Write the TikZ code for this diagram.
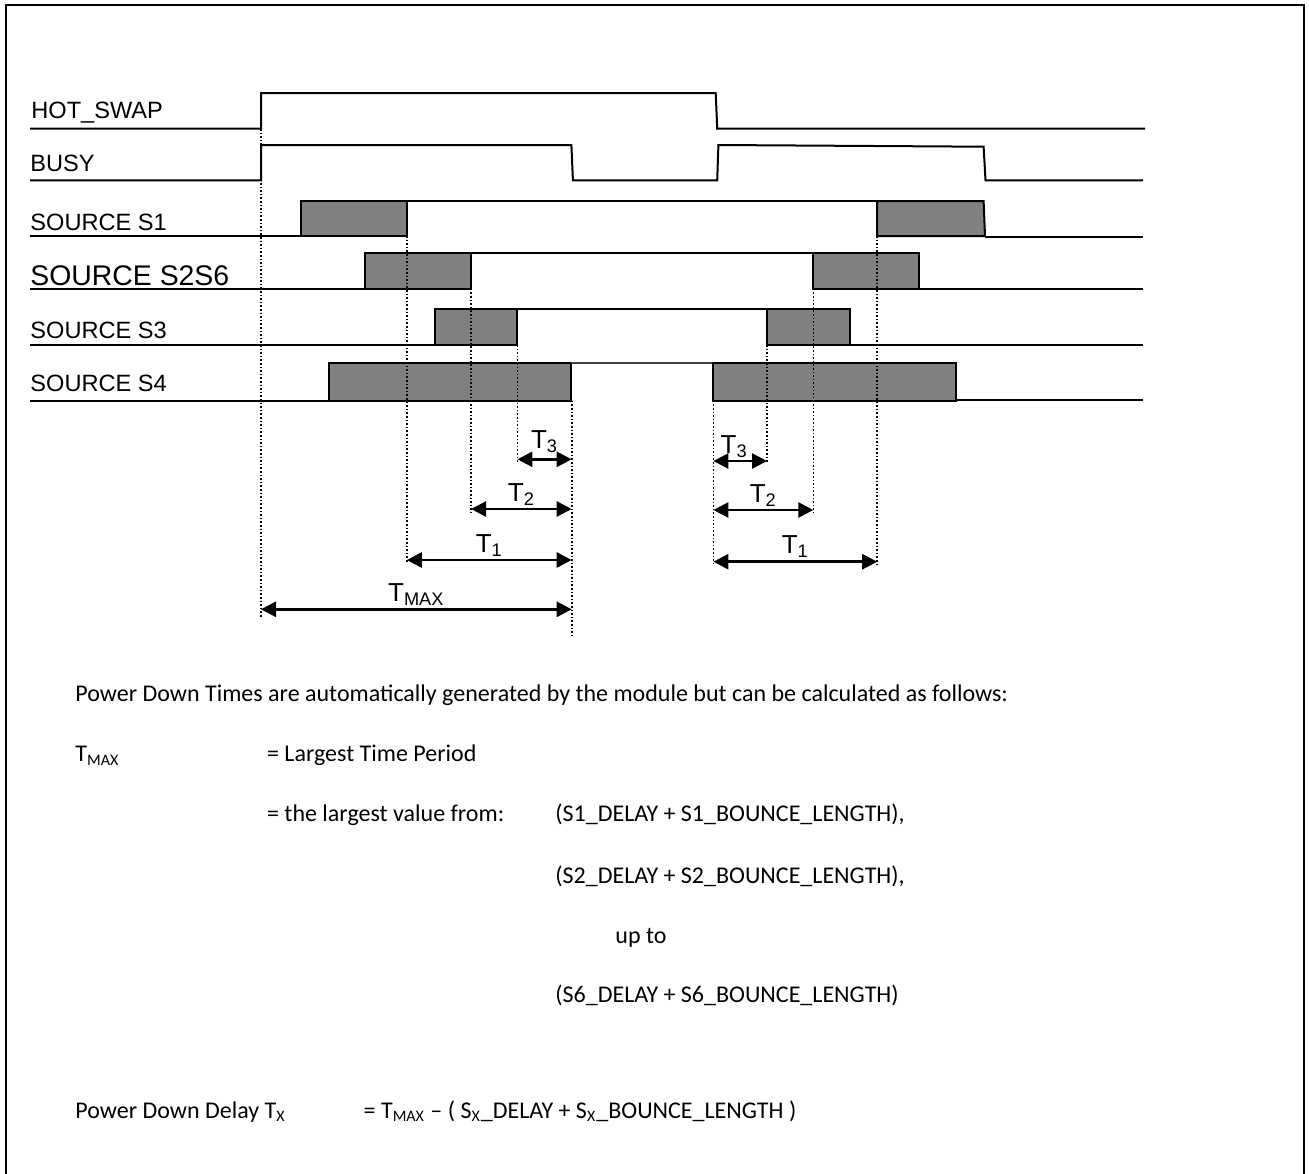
\documentclass[tikz,border=0pt]{standalone}
\usepackage{fontspec}
\setmainfont{Carlito}
\newfontfamily\arialfont{Liberation Sans}
\usepackage{tikz}
\usetikzlibrary{arrows.meta}
\usepackage{xcolor}
\definecolor{ressaltocinza}{RGB}{128,128,128}
\tikzset{
    onda/.style={draw=black, line width=1pt},
    ressalto/.style={draw=black, fill=ressaltocinza, line width=1pt},
    guia/.style={densely dotted, line width=0.8pt},
    cota/.style={{Triangle[length=7.5pt,width=7.5pt]}-{Triangle[length=7.5pt,width=7.5pt]}, line width=1.3pt},
    sinal/.style={anchor=base west, inner sep=0pt, font=\arialfont\fontsize{11.8}{13}\selectfont},
    rotulo/.style={anchor=base, inner sep=0pt, yshift=4pt, font=\arialfont\fontsize{13}{15}\selectfont},
    texto/.style={anchor=base west, inner sep=0pt, font=\fontsize{12}{14}\selectfont}
}

\begin{document}
\begin{tikzpicture}[x=0.5pt, y=-0.5pt]
    \useasboundingbox (0,0) rectangle (1309,1173);
    % Moldura
    \draw[line width=1pt] (5.7,1180) -- (5.7,4.5) -- (1304,4.5) -- (1304,1180);
    % Nomes dos sinais
    \node[sinal] (hotswap) at (31,118.3) {HOT\_SWAP};
    \node[sinal] (busy) at (30,171.7) {BUSY};
    \node[sinal] (fonte1) at (30,230) {SOURCE S1};
    \node[sinal, font=\arialfont\fontsize{14.2}{16}\selectfont] (fonte2) at (30,285.7) {SOURCE S2S6};
    \node[sinal] (fonte3) at (30,338.3) {SOURCE S3};
    \node[sinal] (fonte4) at (30,391.7) {SOURCE S4};
    % HOT_SWAP e BUSY
    \draw[onda] (30,128.7) -- (261,128.7) -- (261,93) -- (715.7,93) -- (717.2,128.7) -- (1145,128.7);
    \draw[onda] (30,180.3) -- (261,180.3) -- (261,145) -- (571.4,145) -- (572.9,180.3) -- (717.2,180.3)
        -- (718.4,145) -- (983.6,146.7) -- (985.5,180.3) -- (1143,180.3);
    % Fonte S1
    \draw[onda] (30,236) -- (301,236);
    \draw[ressalto] (301,236) rectangle (406.8,201);
    \draw[onda] (406.8,201) -- (877.2,201);
    \draw[ressalto] (877.2,201) -- (983.6,201) -- (985,236) -- (877.2,236) -- cycle;
    \draw[onda] (985,236.5) -- (1143,236.5);
    % Fonte S2S6
    \draw[onda] (30,288.7) -- (364.7,288.7);
    \draw[ressalto] (364.7,288.7) rectangle (471.1,253);
    \draw[onda] (471.1,253) -- (813.3,253);
    \draw[ressalto] (813.3,288.7) rectangle (919.3,253);
    \draw[onda] (919.3,288.7) -- (1143,288.7);
    % Fonte S3
    \draw[onda] (30,345) -- (435.1,345);
    \draw[ressalto] (435.1,345) rectangle (517.4,309);
    \draw[onda] (517.4,309) -- (767,309);
    \draw[ressalto] (767,345) rectangle (849.7,309);
    \draw[onda] (849.7,345) -- (1143,345);
    % Fonte S4
    \draw[onda] (30,400.7) -- (329.1,400.7);
    \draw[ressalto] (329.1,400.7) rectangle (571.4,363.3);
    \draw[onda, draw=black!75] (571.4,363.3) -- (713.4,363.3);
    \draw[ressalto] (713.4,400.7) rectangle (955.7,363.3);
    \draw[onda] (955.7,399.5) -- (1143,399.5);
    % Linhas de guia
    \coordinate (g0) at (261,93);
    \coordinate (g1) at (406.8,236);
    \coordinate (g2) at (471.1,288.7);
    \coordinate (g3) at (517.4,345);
    \coordinate (g4) at (571.7,400.7);
    \coordinate (g5) at (713.4,400.7);
    \coordinate (g6) at (767,345);
    \coordinate (g7) at (813.3,288.7);
    \coordinate (g8) at (877.2,236);
    \draw[guia] (g0) -- (g0 |- 0,618);
    \draw[guia] (g1) -- (g1 |- 0,563);
    \draw[guia] (g2) -- (g2 |- 0,512);
    \draw[guia] (g3) -- (g3 |- 0,463);
    \draw[guia] (g4) -- (g4 |- 0,638);
    \draw[guia] (g5) -- (g5 |- 0,565);
    \draw[guia] (g6) -- (g6 |- 0,463);
    \draw[guia] (g7) -- (g7 |- 0,512);
    \draw[guia] (g8) -- (g8 |- 0,565);
    % Cotas
    \draw[cota] (g3 |- 0,459.3) -- node[rotulo, yshift=1.5pt] (t3e) {T\textsubscript{3}} (g4 |- 0,459.3);
    \draw[cota] (g2 |- 0,509) -- node[rotulo] (t2e) {T\textsubscript{2}} (g4 |- 0,509);
    \draw[cota] (g1 |- 0,560) -- node[rotulo] (t1e) {T\textsubscript{1}} (g4 |- 0,560);
    \draw[cota] (g0 |- 0,609.3) -- node[rotulo] (tmax) {T\textsubscript{MAX}} (g4 |- 0,609.3);
    \draw[cota] (g5 |- 0,461) -- node[rotulo, xshift=-3pt] (t3d) {T\textsubscript{3}} (g6 |- 0,461);
    \draw[cota] (g5 |- 0,510) -- node[rotulo] (t2d) {T\textsubscript{2}} (g7 |- 0,510);
    \draw[cota] (g5 |- 0,561.7) -- node[rotulo] (t1d) {T\textsubscript{1}} (g8 |- 0,561.7);
    % Texto explicativo
    \node[texto] (intro) at (75,701.7) {Power Down Times are automatically generated by the module but can be calculated as follows:};
    \node[texto] (tmaxnome) at (75,761.7) {T\textsubscript{MAX}};
    \node[texto] (tmaxdef) at (266.7,761.7) {= Largest Time Period};
    \node[texto] (maiorval) at (266.7,821.7) {= the largest value from:};
    \node[texto] (termo1) at (555,821.7) {(S1\_DELAY + S1\_BOUNCE\_LENGTH),};
    \node[texto] (termo2) at (555,883) {(S2\_DELAY + S2\_BOUNCE\_LENGTH),};
    \node[texto] (ate) at (615,943) {up to};
    \node[texto] (termo6) at (555,1002) {(S6\_DELAY + S6\_BOUNCE\_LENGTH)};
    \node[texto] (atrasonome) at (75,1118) {Power Down Delay T\textsubscript{X}};
    \node[texto] (atrasodef) at (363.3,1118) {= T\textsubscript{MAX} – ( S\textsubscript{X}\_DELAY + S\textsubscript{X}\_BOUNCE\_LENGTH )};
\end{tikzpicture}
\end{document}
